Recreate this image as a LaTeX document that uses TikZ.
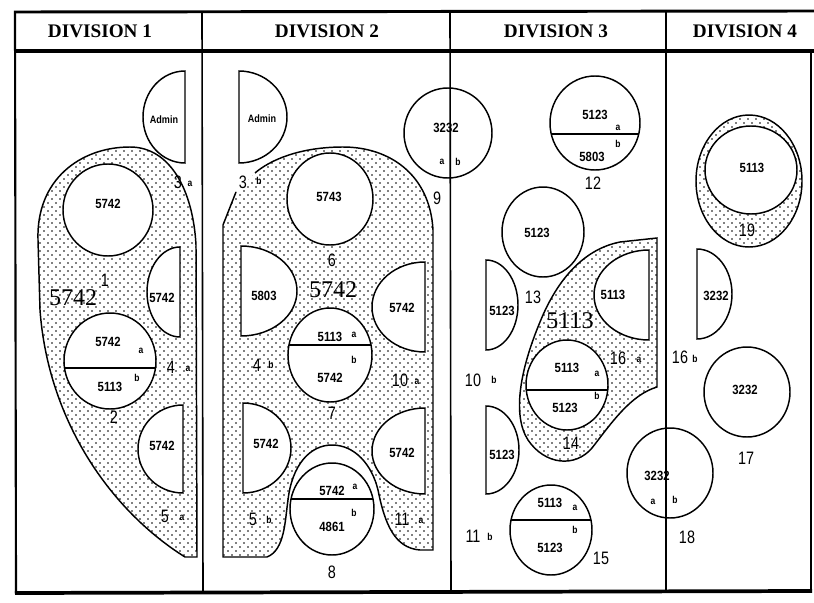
\documentclass[tikz,border=0pt]{standalone}
\usepackage{fontspec}
\setmainfont{Liberation Serif}
\newfontfamily\codefont[FakeStretch=0.85]{Liberation Sans}
\newfontfamily\numfont[FakeStretch=0.8]{Liberation Sans}
\usetikzlibrary{patterns}

% sparse staggered stipple used for the shared areas
\pgfdeclarepatternformonly{sparsedots}{\pgfqpoint{-1pt}{-1pt}}{\pgfqpoint{4pt}{4pt}}{\pgfqpoint{6pt}{6pt}}%
  {\pgfpathcircle{\pgfqpoint{0pt}{0pt}}{0.6pt}\pgfpathcircle{\pgfqpoint{3pt}{3pt}}{0.6pt}\pgfusepath{fill}}

\tikzset{
  outl/.style={draw=black, line width=1.1pt},
  stipple/.style={pattern=sparsedots, pattern color=black},
  code/.style={font=\codefont\bfseries\fontsize{10}{10}\selectfont, inner sep=0pt},
  admin/.style={font=\codefont\bfseries\fontsize{8}{8}\selectfont, inner sep=0pt},
  num/.style={font=\numfont\fontsize{13.5}{13.5}\selectfont, inner sep=0pt},
  tag/.style={font=\codefont\bfseries\fontsize{7.5}{7.5}\selectfont, inner sep=0pt},
  big/.style={font=\fontsize{18}{18}\selectfont, inner sep=0pt},
  head/.style={font=\bfseries\fontsize{14.4}{14.4}\selectfont, inner sep=0pt},
}

% white oval room: centre x, centre y, x radius, y radius
\newcommand{\ovaldisc}[4]{\draw[outl, fill=white] (#1,#2) ellipse[x radius=#3, y radius=#4];}
% dividing line across an oval room at height #5
\newcommand{\ovalchord}[5]{\begin{scope}\clip (#1,#2) ellipse[x radius=#3, y radius=#4];
  \draw[outl] (#1-#3,#5) -- (#1+#3,#5);\end{scope}}
% half room, straight side on the left at x=#1, bulging right
\newcommand{\halfdiscL}[4]{\draw[outl, fill=white] (#1,#2-#4) arc[start angle=-90, end angle=90, x radius=#3, y radius=#4] -- cycle;}
% half room, straight side on the right at x=#1, bulging left
\newcommand{\halfdiscR}[4]{\draw[outl, fill=white] (#1,#2-#4) arc[start angle=270, end angle=90, x radius=#3, y radius=#4] -- cycle;}

\begin{document}
\begin{tikzpicture}[x=0.75pt, y=-0.75pt]
\useasboundingbox (0,0) rectangle (814,603);
\fill[white] (0,0) rectangle (814,603);

% ---------- stippled areas ----------
% division 1
\path[stipple] (185,557) .. controls (110,510) and (48,420) .. (40,310)
  -- (38,240) .. controls (36,180) and (80,147) .. (130,147)
  .. controls (170,147) and (193,190) .. (196,245) -- (197,557) -- cycle;
\draw[outl] (185,557) .. controls (110,510) and (48,420) .. (40,310)
  -- (38,240) .. controls (36,180) and (80,147) .. (130,147)
  .. controls (170,147) and (193,190) .. (196,245) -- (197,557) -- cycle;

% division 2
\path[stipple] (236,192) -- (223,225) -- (223,557) -- (267,557)
  .. controls (285,550) and (285,520) .. (288,500)
  .. controls (292,465) and (310,445) .. (332,445)
  .. controls (355,445) and (372,465) .. (378,490)
  .. controls (385,525) and (395,548) .. (420,550) -- (433,550) -- (433,230)
  .. controls (430,175) and (390,147) .. (343,147)
  .. controls (300,147) and (270,160) .. (255,173) -- cycle;
\draw[outl] (236,192) -- (223,225) -- (223,557) -- (267,557)
  .. controls (285,550) and (285,520) .. (288,500)
  .. controls (292,465) and (310,445) .. (332,445)
  .. controls (355,445) and (372,465) .. (378,490)
  .. controls (385,525) and (395,548) .. (420,550) -- (433,550) -- (433,230)
  .. controls (430,175) and (390,147) .. (343,147)
  .. controls (300,147) and (270,160) .. (255,173);

% division 3
\path[stipple] (657,238) -- (657,387)
  .. controls (630,395) and (610,425) .. (592,448)
  .. controls (575,468) and (545,465) .. (528,440)
  .. controls (512,415) and (520,370) .. (540,322)
  .. controls (555,285) and (580,250) .. (620,242) -- cycle;
\draw[outl] (657,238) -- (657,387)
  .. controls (630,395) and (610,425) .. (592,448)
  .. controls (575,468) and (545,465) .. (528,440)
  .. controls (512,415) and (520,370) .. (540,322)
  .. controls (555,285) and (580,250) .. (620,242) -- cycle;

% division 4
\path[stipple] (749,181) ellipse[x radius=53, y radius=66];
\draw[outl] (749,181) ellipse[x radius=53, y radius=66];

% ---------- division 1 rooms ----------
\halfdiscR{185}{117}{42}{46}
\node[admin] (d1admin) at (164,120) {Admin};
\node[num] (d1n3) at (178,182) {3};
\node[tag] (d1t3) at (190,184) {a};

\ovaldisc{108}{210}{45}{46}
\node[code] (d1r1) at (108,204) {5742};
\node[num] (d1n1) at (105,280) {1};
\node[big] (d1big) at (73,298) {5742};

\halfdiscR{180}{292}{33}{45}
\node[code] (d1r2) at (162,298) {5742};

\ovaldisc{110}{361}{46}{48}
\ovalchord{110}{361}{46}{48}{368}
\node[code] (d1r3) at (108,342) {5742};
\node[tag] (d1t3a) at (141,351) {a};
\node[tag] (d1t3b) at (137,378) {b};
\node[code] (d1r4) at (110,387) {5113};
\node[num] (d1n2) at (114,417) {2};
\node[num] (d1n4) at (171,367) {4};
\node[tag] (d1t4) at (188,369) {a};

\halfdiscR{183}{449}{45}{44}
\node[code] (d1r5) at (162,446) {5742};
\node[num] (d1n5) at (165,516) {5};
\node[tag] (d1t5) at (182,518) {a};

% ---------- division 2 rooms ----------
\halfdiscL{239}{117}{48}{46}
\node[admin] (d2admin) at (262,119) {Admin};
\node[num] (d2n3) at (243,182) {3};
\node[tag] (d2t3) at (259,181) {b};

\ovaldisc{330}{199}{43}{46}
\node[code] (d2r1) at (329,197) {5743};
\node[num] (d2n6) at (332,260) {6};
\node[big] (d2big) at (333,290) {5742};

\halfdiscL{241}{291}{56}{45}
\node[code] (d2r2) at (264,296) {5803};
\halfdiscR{425}{307}{53}{45}
\node[code] (d2r3) at (402,308) {5742};

\ovaldisc{330}{355}{42}{47}
\ovalchord{330}{355}{42}{47}{345}
\node[code] (d2r4) at (330,337) {5113};
\node[tag] (d2t7a) at (354,335) {a};
\node[tag] (d2t7b) at (354,360) {b};
\node[code] (d2r5) at (330,378) {5742};
\node[num] (d2n7) at (332,413) {7};
\node[num] (d2n4) at (257,365) {4};
\node[tag] (d2t4) at (271,365) {b};
\node[num] (d2n10) at (400,380) {10};
\node[tag] (d2t10) at (417,382) {a};

\halfdiscL{243}{448}{48}{45}
\node[code] (d2r6) at (266,444) {5742};
\halfdiscR{425}{451}{53}{43}
\node[code] (d2r7) at (402,453) {5742};

\ovaldisc{332}{509}{42}{46}
\ovalchord{332}{509}{42}{46}{499}
\node[code] (d2r8) at (332,491) {5742};
\node[tag] (d2t8a) at (355,487) {a};
\node[tag] (d2t8b) at (354,513) {b};
\node[code] (d2r9) at (332,527) {4861};
\node[num] (d2n8) at (332,572) {8};
\node[num] (d2n5) at (253,519) {5};
\node[tag] (d2t5) at (269,520) {b};
\node[num] (d2n11) at (402,519) {11};
\node[tag] (d2t11) at (421,521) {a};

% room 9 straddles divisions 2 and 3
\ovaldisc{448}{133}{44}{45}
\node[code] (r9) at (446,128) {3232};
\node[tag] (r9a) at (442,162) {a};
\node[tag] (r9b) at (458,162) {b};
\node[num] (n9) at (437,198) {9};

% ---------- division 3 rooms ----------
\ovaldisc{595}{123}{45}{47}
\ovalchord{595}{123}{45}{47}{134}
\node[code] (d3r1) at (595,115) {5123};
\node[tag] (d3t12a) at (618,128) {a};
\node[tag] (d3t12b) at (618,144) {b};
\node[code] (d3r2) at (592,157) {5803};
\node[num] (d3n12) at (593,183) {12};

\ovaldisc{543}{232}{41}{45}
\node[code] (d3r3) at (537,233) {5123};
\node[num] (d3n13) at (533,297) {13};

\halfdiscL{486}{305}{32}{45}
\node[code] (d3r4) at (502,311) {5123};

\halfdiscR{649}{295}{55}{45}
\node[code] (d3r5) at (613,295) {5113};
\node[big] (d3big) at (570,321) {5113};

\ovaldisc{567}{385}{41}{45}
\ovalchord{567}{385}{41}{45}{390}
\node[code] (d3r6) at (567,368) {5113};
\node[tag] (d3t14a) at (597,374) {a};
\node[tag] (d3t14b) at (597,396) {b};
\node[code] (d3r7) at (565,408) {5123};
\node[num] (d3n14) at (571,443) {14};
\node[num] (d3n16) at (618,358) {16};
\node[tag] (d3t16) at (639,360) {a};
\node[num] (d3n10) at (473,380) {10};
\node[tag] (d3t10) at (494,380) {b};

\halfdiscL{486}{450}{33}{44}
\node[code] (d3r8) at (502,455) {5123};

\ovaldisc{551}{530}{41}{45}
\ovalchord{551}{530}{41}{45}{520}
\node[code] (d3r9) at (550,503) {5113};
\node[tag] (d3t15a) at (575,508) {a};
\node[tag] (d3t15b) at (575,530) {b};
\node[code] (d3r10) at (550,548) {5123};
\node[num] (d3n15) at (601,558) {15};
\node[num] (d3n11) at (473,536) {11};
\node[tag] (d3t11) at (490,537) {b};

% room 18 straddles divisions 3 and 4
\ovaldisc{670}{473}{43}{45}
\node[code] (r18) at (657,476) {3232};
\node[tag] (r18a) at (653,502) {a};
\node[tag] (r18b) at (675,500) {b};
\node[num] (n18) at (687,537) {18};

% ---------- division 4 rooms ----------
\ovaldisc{751}{170}{46}{44}
\node[code] (d4r1) at (752,168) {5113};
\node[num] (d4n19) at (747,230) {19};

\halfdiscL{697}{294}{35}{45}
\node[code] (d4r2) at (716,296) {3232};
\node[num] (d4n16) at (680,357) {16};
\node[tag] (d4t16) at (695,359) {b};

\ovaldisc{747}{392}{43}{45}
\node[code] (d4r3) at (745,390) {3232};
\node[num] (d4n17) at (746,458) {17};

% ---------- frame and headings ----------
\draw[line width=2.2pt] (14,12) -- (814,11);
\draw[line width=2.8pt] (14,51) -- (814,51);
\draw[line width=1.6pt] (15,12) -- (16,594);
\draw[line width=2.8pt] (15,593) -- (812,591);
\draw[line width=1.6pt] (811,51) -- (811,592);
\draw[line width=1.2pt] (202,12) -- (203,593);
\draw[line width=1.2pt] (450,12) -- (451,593);
\draw[line width=1.2pt] (666,12) -- (666,592);

\node[head] (h1) at (100,31) {DIVISION 1};
\node[head] (h2) at (327,31) {DIVISION 2};
\node[head] (h3) at (556,31) {DIVISION 3};
\node[head] (h4) at (745,31) {DIVISION 4};
\end{tikzpicture}
\end{document}
